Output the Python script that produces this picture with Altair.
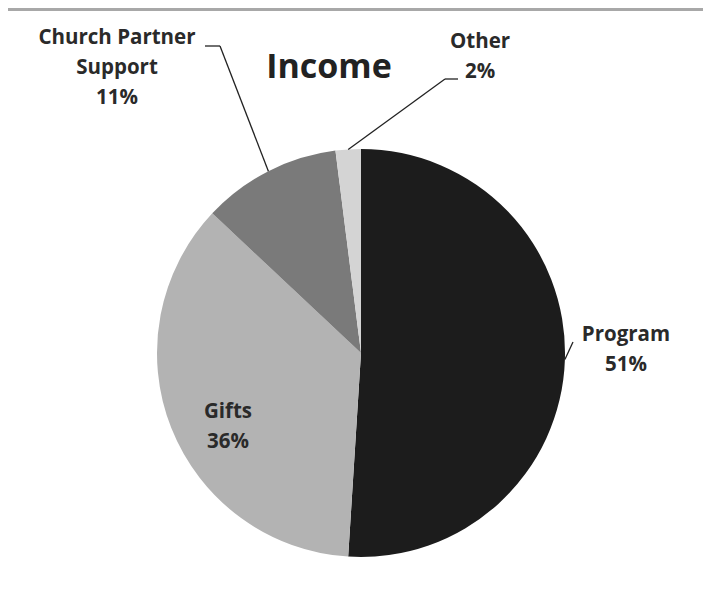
import altair as alt
import pandas as pd

# ---- data ----
categories = ["Program", "Gifts", "Church Partner Support", "Other"]
values = [51, 36, 11, 2]
label_text = ["Program\n51%", "Gifts\n36%", "Church Partner\nSupport\n11%", "Other\n2%"]
colors = ["#1c1c1c", "#b3b3b3", "#7a7a7a", "#d4d4d4"]

# ---- layout (first-line label anchors / leader elbows, chart px) ----
label_x = [618, 220, 109, 472]
label_y = [327, 404, 30, 34]
elbow_x = [565, None, 212, 437]
elbow_y = [334, None, 38, 71]
end_x = [565, None, 197, 450]
end_y = [334, None, 38, 71]

W, H = 695, 589
CX, CY, R = 353, 345, 204

df = pd.DataFrame({
    "category": categories,
    "value": values,
    "idx": list(range(len(categories))),
    "label": label_text,
    "lx": label_x,
    "ly": label_y,
    "bx": elbow_x,
    "by": elbow_y,
    "ex": end_x,
    "ey": end_y,
})

base = alt.Chart(df)

leader_src = base.transform_joinaggregate(
    total="sum(value)"
).transform_window(
    cum="sum(value)", sort=[alt.SortField("idx")], frame=[None, 0]
).transform_calculate(
    mid="(datum.cum - datum.value/2) / datum.total * 2 * PI",
).transform_calculate(
    px=f"{CX} + {R} * sin(datum.mid)",
    py=f"{CY} - {R} * cos(datum.mid)",
).transform_filter("isValid(datum.bx)")

leader1 = leader_src.mark_rule(color="#222222", strokeWidth=1.3).encode(
    x=alt.X("px:Q", scale=None),
    y=alt.Y("py:Q", scale=None),
    x2="bx:Q",
    y2="by:Q",
)
leader2 = leader_src.mark_rule(color="#222222", strokeWidth=1.3).encode(
    x=alt.X("bx:Q", scale=None),
    y=alt.Y("by:Q", scale=None),
    x2="ex:Q",
    y2="ey:Q",
)

labels = base.transform_calculate(
    lines="split(datum.label, '\\n')"
).mark_text(
    font="Open Sans", fontWeight="bold", fontSize=20.5, color="#2a2a2a",
    align="center", baseline="middle", lineHeight=30,
).encode(
    x=alt.X("lx:Q", scale=None),
    y=alt.Y("ly:Q", scale=None),
    text="lines:N",
)

title = alt.Chart(pd.DataFrame({"t": ["Income"]})).mark_text(
    font="Open Sans", fontWeight="bold", fontSize=34, color="#222222",
    align="center", baseline="middle",
).encode(x=alt.value(321), y=alt.value(60), text="t:N")

topband = alt.Chart(pd.DataFrame({"a": [0]})).mark_rect(color="#a8a8a8").encode(
    x=alt.value(0), x2=alt.value(W), y=alt.value(0), y2=alt.value(3)
)

pie_layer = alt.Chart(df).mark_arc(radius=R).encode(
    theta=alt.Theta("value:Q", stack=True),
    order=alt.Order("idx:Q"),
    color=alt.Color("category:N", scale=alt.Scale(domain=categories, range=colors), legend=None),
    x=alt.value(CX),
    y=alt.value(CY),
)

chart = alt.layer(pie_layer, leader1, leader2, labels, title, topband).properties(
    width=W, height=H, padding=0, autosize=alt.AutoSizeParams(type="none"),
    background="white",
).configure_view(stroke=None)

chart.save("out.html", embed_options={"renderer": "svg", "actions": False})
